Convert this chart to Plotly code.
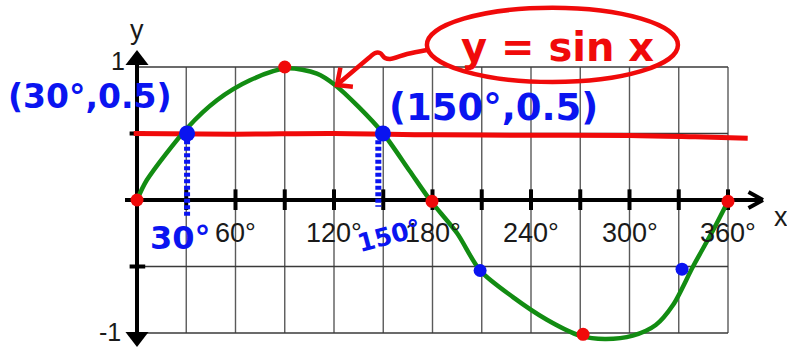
import plotly.graph_objects as go

# Sketched sine curve, read point by point (degrees, value)
curve_x = [0, 6, 30.5, 48.7, 68.8, 91, 109.6, 120.6, 135, 150, 166, 178.5, 195, 209,
           229, 249.7, 270, 285, 302, 316, 326.5, 338.7, 351, 360]
curve_y = [0, 0.15, 0.54, 0.75, 0.90, 0.99, 0.95, 0.865, 0.70, 0.5, 0.22, 0, -0.25, -0.53,
           -0.73, -0.90, -1.02, -1.045, -1.02, -0.94, -0.79, -0.50, -0.226, -0.01]

# Key points marked in red (zeros and extremes)
key_x = [0, 90, 179.7, 271.7, 360]
key_y = [0, 1.0, -0.01, -1.01, -0.01]

# Points where sin x = +/-0.5, marked in blue
half_x = [30.5, 149.8, 209, 332]
half_y = [0.5, 0.5, -0.53, -0.52]
half_size = [16, 16, 13, 13]

# Horizontal line y = 0.5 drawn freehand
level_x = [-2, 60, 120, 180, 240, 300, 340, 372]
level_y = [0.50, 0.495, 0.50, 0.49, 0.487, 0.485, 0.475, 0.465]

# Grid and tick labels
grid_x = [30, 60, 90, 120, 150, 180, 210, 240, 270, 300, 330, 360]
grid_y = [1, 0.5, -0.5, -1]
label_x = [60, 120, 180, 240, 300, 360]
label_text = ["60°", "120°", "180°", "240°", "300°", "360°"]

# Callout stroke from the formula bubble to the curve
callout_x = [176.6, 164.5, 154.1, 151.1, 148.0, 145.0, 141.9, 121.8]
callout_y = [1.128, 1.098, 1.060, 1.068, 1.105, 1.105, 1.075, 0.865]
head_x = [123.9, 121.8, 131.5]
head_y = [0.995, 0.865, 0.852]

RED = "#f00a0a"
BLUE = "#0a14f0"
GREEN = "#128c12"
TICK_FONT = dict(family="Liberation Sans, Arial", size=27, color="#1a1a1a")
YTICK_FONT = dict(family="Liberation Sans, Arial", size=25, color="#1a1a1a")
HAND = "DejaVu Sans"

fig = go.Figure()
shapes = []

# grid
for gx in grid_x:
    shapes.append(dict(type="line", x0=gx, x1=gx, y0=-1, y1=1, layer="below",
                       line=dict(color="#5a5a5a", width=1.4)))
for gy in grid_y:
    shapes.append(dict(type="line", x0=0, x1=360, y0=gy, y1=gy, layer="below",
                       line=dict(color="#3a3a3a", width=1.4)))

# axes
shapes.append(dict(type="line", x0=-7.3, x1=380, y0=0, y1=0, layer="below",
                   line=dict(color="black", width=4)))
shapes.append(dict(type="line", x0=0, x1=0, y0=-1.08, y1=1.1, layer="below",
                   line=dict(color="black", width=4)))
# x-axis arrow (chevron)
for wy in (0.06, -0.06):
    shapes.append(dict(type="line", x0=372.5, x1=381.3, y0=wy, y1=0, layer="below",
                       line=dict(color="black", width=4)))
# tick marks
for gx in grid_x:
    shapes.append(dict(type="line", x0=gx, x1=gx, y0=0.08, y1=-0.075, layer="below",
                       line=dict(color="black", width=4)))
for gy in (0.5, -0.5):
    shapes.append(dict(type="line", x0=-4.5, x1=5, y0=gy, y1=gy, layer="below",
                       line=dict(color="black", width=4)))

# formula bubble
shapes.append(dict(type="circle", x0=176.6, x1=329.5, y0=0.887, y1=1.445,
                   line=dict(color=RED, width=4.5)))

# y-axis arrow heads
fig.add_trace(go.Scatter(x=[0, 0], y=[1.053, -1.03], mode="markers",
                         marker=dict(symbol=["triangle-up", "triangle-down"], size=20,
                                     color="black", opacity=1),
                         hoverinfo="skip"))

# freehand y = 0.5 line
fig.add_trace(go.Scatter(x=level_x, y=level_y, mode="lines", line_shape="spline",
                         line=dict(color=RED, width=5), hoverinfo="skip"))

# sine curve
fig.add_trace(go.Scatter(x=curve_x, y=curve_y, mode="lines", line_shape="spline",
                         line=dict(color=GREEN, width=4.5, smoothing=0.8)))

# callout arrow
fig.add_trace(go.Scatter(x=callout_x, y=callout_y, mode="lines", line_shape="spline",
                         line=dict(color=RED, width=4.5), hoverinfo="skip"))
fig.add_trace(go.Scatter(x=head_x, y=head_y, mode="lines",
                         line=dict(color=RED, width=4.5), hoverinfo="skip"))

# dotted drop lines from the intersections
for dx, top, bottom in ((30.5, 0.45, -0.13), (147, 0.45, -0.05)):
    fig.add_trace(go.Scatter(x=[dx, dx], y=[top, bottom], mode="lines",
                             line=dict(color=BLUE, width=6, dash="4px,2.5px"),
                             hoverinfo="skip"))

# markers
fig.add_trace(go.Scatter(x=key_x, y=key_y, mode="markers",
                         marker=dict(color=RED, size=13, opacity=1, line=dict(width=0))))
fig.add_trace(go.Scatter(x=half_x, y=half_y, mode="markers",
                         marker=dict(color=BLUE, size=half_size, opacity=1,
                                     line=dict(width=0))))

annotations = []
for lx, lt in zip(label_x, label_text):
    annotations.append(dict(x=lx, y=-0.248, text=lt, showarrow=False, font=TICK_FONT,
                            xanchor="center", yanchor="middle"))
annotations += [
    dict(x=-6.1, y=1.045, text="1", showarrow=False, font=YTICK_FONT,
         xanchor="right", yanchor="middle"),
    dict(x=-8.5, y=-1.113, text="-1", showarrow=False, font=YTICK_FONT,
         xanchor="right", yanchor="bottom"),
    dict(x=0, y=1.28, text="y", showarrow=False, font=TICK_FONT,
         xanchor="center", yanchor="middle"),
    dict(x=392.3, y=-0.13, text="x", showarrow=False, font=TICK_FONT,
         xanchor="center", yanchor="middle"),
    dict(x=256.4, y=1.15, text="<b>y = sin x</b>", showarrow=False,
         font=dict(family=HAND, size=40, color=RED), xanchor="center", yanchor="middle"),
    dict(x=-28.5, y=0.78, text="<b>(30°,0.5)</b>", showarrow=False,
         font=dict(family=HAND, size=33, color=BLUE), xanchor="center", yanchor="middle"),
    dict(x=216.9, y=0.692, text="<b>(150°,0.5)</b>", showarrow=False,
         font=dict(family=HAND, size=37, color=BLUE), xanchor="center", yanchor="middle"),
    dict(x=26.2, y=-0.285, text="<b>30°</b>", showarrow=False,
         font=dict(family=HAND, size=32, color=BLUE), xanchor="center", yanchor="middle"),
    dict(x=154.1, y=-0.27, text="<b>150°</b>", showarrow=False, textangle=-15,
         font=dict(family=HAND, size=25, color=BLUE), xanchor="center", yanchor="middle"),
]

fig.update_layout(
    width=787, height=349,
    margin=dict(l=0, r=0, t=0, b=0),
    paper_bgcolor="white", plot_bgcolor="white",
    showlegend=False,
    xaxis=dict(range=[-83.45, 395.94], visible=False, fixedrange=True),
    yaxis=dict(range=[-1.1203, 1.5038], visible=False, fixedrange=True),
    shapes=shapes,
    annotations=annotations,
)

fig.write_html("out.html")
